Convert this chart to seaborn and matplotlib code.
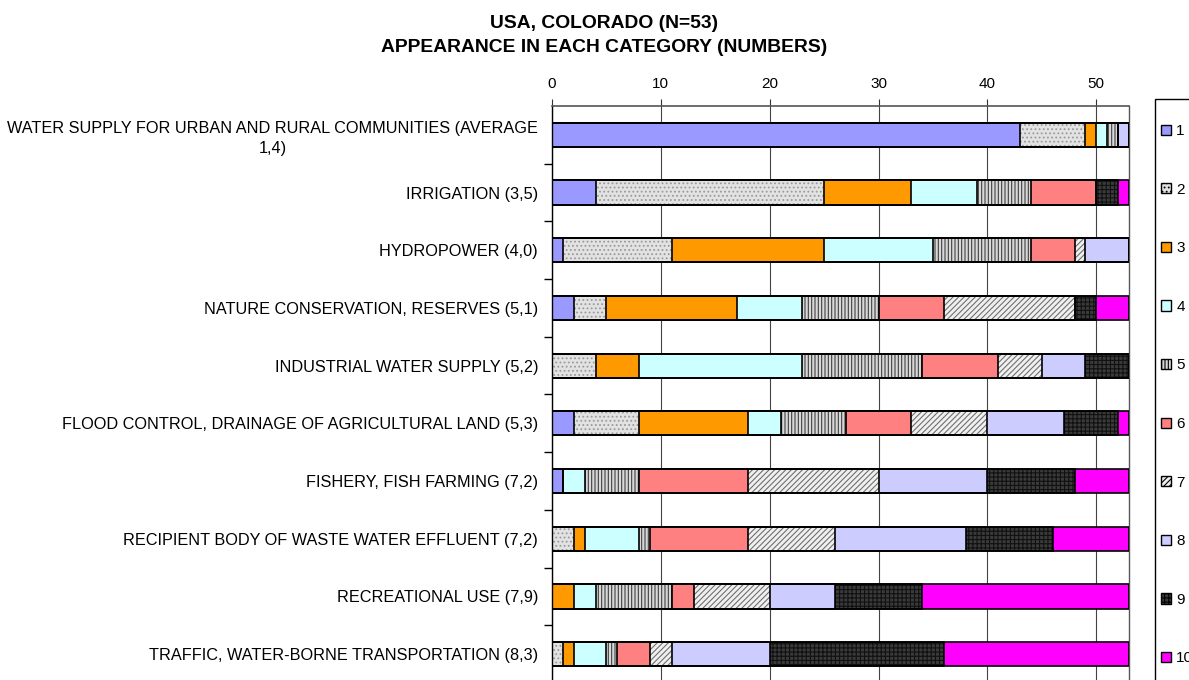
import numpy as np
import pandas as pd
import matplotlib
matplotlib.use("Agg")
import matplotlib.pyplot as plt
from matplotlib.patches import Patch, Rectangle
import seaborn as sns

# ---------------- data ----------------
categories = [
    "WATER SUPPLY FOR URBAN AND RURAL COMMUNITIES (AVERAGE\n1,4)",
    "IRRIGATION (3,5)",
    "HYDROPOWER (4,0)",
    "NATURE CONSERVATION, RESERVES (5,1)",
    "INDUSTRIAL WATER SUPPLY (5,2)",
    "FLOOD CONTROL, DRAINAGE OF AGRICULTURAL LAND (5,3)",
    "FISHERY, FISH FARMING (7,2)",
    "RECIPIENT BODY OF WASTE WATER EFFLUENT (7,2)",
    "RECREATIONAL USE (7,9)",
    "TRAFFIC, WATER-BORNE TRANSPORTATION (8,3)",
]
ranks = ["1", "2", "3", "4", "5", "6", "7", "8", "9", "10"]
rank_1 = [43, 4, 1, 2, 0, 2, 1, 0, 0, 0]
rank_2 = [6, 21, 10, 3, 4, 6, 0, 2, 0, 1]
rank_3 = [1, 8, 14, 12, 4, 10, 0, 1, 2, 1]
rank_4 = [1, 6, 10, 6, 15, 3, 2, 5, 2, 3]
rank_5 = [1, 5, 9, 7, 11, 6, 5, 1, 7, 1]
rank_6 = [0, 6, 4, 6, 7, 6, 10, 9, 2, 3]
rank_7 = [0, 0, 1, 12, 4, 7, 12, 8, 7, 2]
rank_8 = [1, 0, 4, 0, 4, 7, 10, 12, 6, 9]
rank_9 = [0, 2, 0, 2, 4, 5, 8, 8, 8, 16]
rank_10 = [0, 1, 0, 3, 0, 1, 5, 7, 19, 17]
x_ticks = [0, 10, 20, 30, 40, 50]
title_lines = ["USA, COLORADO (N=53)", "APPEARANCE IN EACH CATEGORY (NUMBERS)"]

series = [rank_1, rank_2, rank_3, rank_4, rank_5, rank_6, rank_7, rank_8, rank_9, rank_10]

# ---------------- styles ----------------
face_colors = ["#9999FF", "#E2E2E2", "#FF9900", "#CCFFFF", "#D8D8D8",
               "#FF8080", "#F0F0F0", "#CCCCFF", "#3A3A3A", "#FF00FF"]
hatches = [None, "....", None, None, "|||||", None, "//////", None, "++++", None]
hatch_colors = ["none", "#9A9A9A", "none", "none", "#404040",
                "none", "#707070", "none", "#111111", "none"]

sns.set_style("white")
plt.rcParams["font.family"] = ["Liberation Sans", "DejaVu Sans"]
plt.rcParams["hatch.linewidth"] = 0.8
plt.rcParams["text.color"] = "black"
plt.rcParams["xtick.color"] = "black"
plt.rcParams["ytick.color"] = "black"
plt.rcParams["axes.labelcolor"] = "black"

W, H = 1189, 680
fig = plt.figure(figsize=(W / 100, H / 100), dpi=100)
ax = fig.add_axes([552 / W, 1 - 683 / H, 577 / W, 577 / H])

cum = np.cumsum(np.array(series), axis=0)  # shape (10 ranks, 10 categories)
bar_w = 0.42

# fill layer: draw cumulative bars from the last rank to the first
for k in range(len(ranks) - 1, -1, -1):
    df = pd.DataFrame({"cat": categories, "val": cum[k]})
    kw = dict(color=face_colors[k], linewidth=0)
    if hatches[k] is not None:
        kw.update(hatch=hatches[k], edgecolor=hatch_colors[k])
    sns.barplot(data=df, x="val", y="cat", order=categories, orient="h",
                width=bar_w, errorbar=None, saturation=1, ax=ax, zorder=2, **kw)

# outline layer
for k in range(len(ranks) - 1, -1, -1):
    df = pd.DataFrame({"cat": categories, "val": cum[k]})
    sns.barplot(data=df, x="val", y="cat", order=categories, orient="h",
                width=bar_w, errorbar=None, ax=ax, fill=False, saturation=1,
                color="black", edgecolor="black", linewidth=1.2, zorder=3)

ax.set_xlim(0, 53)
ax.set_ylim(len(categories) - 0.5, -0.5)
ax.set_xlabel("")
ax.set_ylabel("")

# x axis on top
ax.xaxis.tick_top()
ax.set_xticks(x_ticks)
ax.set_xticklabels([str(t) for t in x_ticks], fontsize=11)
ax.tick_params(axis="x", which="major", direction="out", length=5, width=0.8,
               color="#333333", pad=6, top=True, bottom=False)
ax.grid(axis="x", color="#444444", linewidth=0.8, zorder=0)
ax.grid(axis="y", visible=False)
ax.set_axisbelow(True)

# y axis: labels at categories, ticks at boundaries
ax.set_yticks(range(len(categories)))
ax.set_yticklabels(categories, fontsize=11.7, multialignment="center",
                   linespacing=1.4, color="black")
ax.tick_params(axis="y", which="major", length=0, pad=10)
ax.set_yticks(np.arange(0.5, len(categories) - 0.5, 1.0), minor=True)
ax.tick_params(axis="y", which="minor", direction="out", length=6, width=1.0,
               color="black", left=True)

for name, sp in ax.spines.items():
    sp.set_visible(True)
ax.spines["left"].set_color("black")
ax.spines["left"].set_linewidth(1.0)
ax.spines["top"].set_color("#555555")
ax.spines["top"].set_linewidth(1.2)
ax.spines["right"].set_color("#555555")
ax.spines["right"].set_linewidth(1.0)
ax.spines["bottom"].set_visible(False)

if ax.get_legend() is not None:
    ax.get_legend().remove()

# title
fig.text(604 / W, 1 - 23 / H, title_lines[0], ha="center", va="center",
         fontsize=13.9, fontweight="bold", color="black")
fig.text(604 / W, 1 - 47 / H, title_lines[1], ha="center", va="center",
         fontsize=13.9, fontweight="bold", color="black")

# legend frame (extends past the figure edge, as in the reference)
fig.patches.append(Rectangle((1155 / W, -0.05), 0.2, 1 - 99 / H + 0.05,
                             transform=fig.transFigure, facecolor="white",
                             edgecolor="black", linewidth=1.0, zorder=1))
handles = []
for k in range(len(ranks)):
    handles.append(Patch(facecolor=face_colors[k], edgecolor="black",
                         hatch=hatches[k], linewidth=1.0))
fig.legend(handles, ranks, loc="upper left",
           bbox_to_anchor=(1161 / W, 1 - 124 / H), frameon=False,
           borderpad=0, borderaxespad=0, fontsize=11,
           handlelength=0.65, handleheight=0.65, handletextpad=0.35,
           labelspacing=2.92)

fig.savefig("out.png", dpi=100)
